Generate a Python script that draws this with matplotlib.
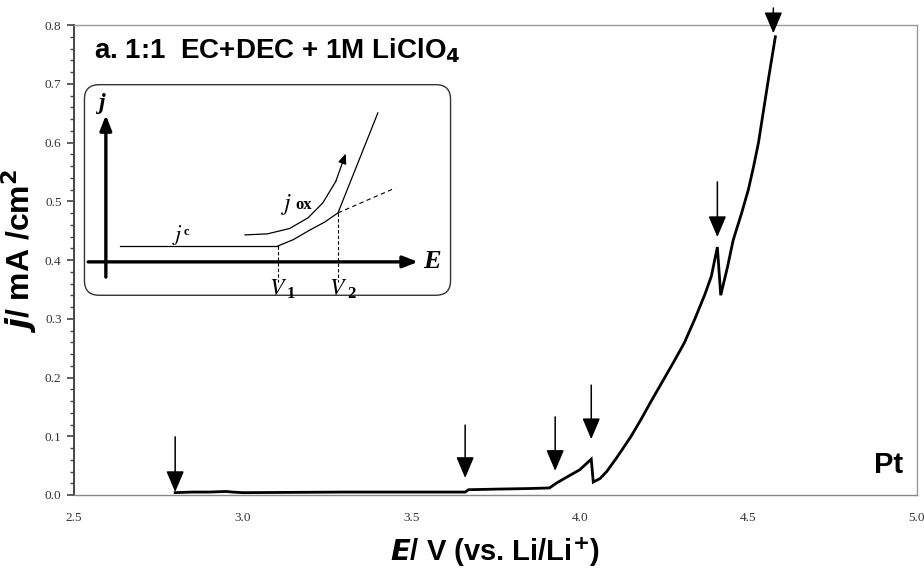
import numpy as np
import matplotlib
matplotlib.use("Agg")
import matplotlib.pyplot as plt
from matplotlib.patches import FancyBboxPatch

# anodic scan on Pt, 1:1 EC+DEC + 1M LiClO4
E = [2.80, 2.85, 2.90, 2.95, 2.97, 3.00, 3.30, 3.60, 3.66, 3.67, 3.75, 3.85,
     3.91, 3.93, 3.96, 4.00, 4.034, 4.040, 4.06, 4.08, 4.11, 4.15, 4.18,
     4.21, 4.25, 4.28, 4.31, 4.34, 4.37, 4.39, 4.408, 4.418, 4.438, 4.455,
     4.48, 4.50, 4.515, 4.53, 4.545, 4.56, 4.58]
j = [0.004, 0.005, 0.005, 0.006, 0.005, 0.004, 0.005, 0.005, 0.005, 0.009,
     0.010, 0.011, 0.012, 0.020, 0.030, 0.043, 0.061, 0.022, 0.028, 0.040,
     0.064, 0.098, 0.127, 0.158, 0.198, 0.228, 0.259, 0.298, 0.340, 0.372,
     0.422, 0.340, 0.388, 0.434, 0.480, 0.520, 0.558, 0.600, 0.655, 0.710,
     0.780]

# arrows marking the events: (E, top of shaft, tip)
arrow_E = [2.80, 3.66, 3.927, 4.034, 4.408, 4.574]
arrow_top = [0.099, 0.119, 0.133, 0.187, 0.533, 0.829]
arrow_tip = [0.005, 0.029, 0.041, 0.095, 0.439, 0.786]

x_ticks = [2.5, 3.0, 3.5, 4.0, 4.5, 5.0]
y_ticks = [0.0, 0.1, 0.2, 0.3, 0.4, 0.5, 0.6, 0.7, 0.8]

# schematic of the onset construction (inset, unit coords)
jc_u = [0.100, 0.528]
jc_v = [0.238, 0.238]
rise_u = [0.528, 0.57, 0.615, 0.655, 0.691, 0.799]
rise_v = [0.238, 0.268, 0.313, 0.350, 0.393, 0.860]
ext_u = [0.691, 0.846]
ext_v = [0.393, 0.509]
jox_u = [0.439, 0.50, 0.56, 0.61, 0.65, 0.685, 0.705]
jox_v = [0.290, 0.295, 0.320, 0.370, 0.440, 0.540, 0.640]
V_u = [0.528, 0.691]

fig = plt.figure(figsize=(9.24, 5.71), dpi=100)
ax = fig.add_axes([0.0801, 0.1331, 0.9123, 0.8231])

ax.plot(E, j, color="black", lw=2.0, solid_joinstyle="miter")
for xe, y0, y1 in zip(arrow_E, arrow_top, arrow_tip):
    ax.annotate("", xy=(xe, y1), xytext=(xe, y0), annotation_clip=False,
                arrowprops=dict(arrowstyle="-|>,head_length=1.3,head_width=0.55",
                                color="black", lw=1.1, shrinkA=0, shrinkB=0))

ax.set_xlim(2.5, 5.0)
ax.set_ylim(0.0, 0.8)
ax.set_xticks(x_ticks)
ax.set_xticklabels(["%.1f" % v for v in x_ticks])
ax.set_yticks(y_ticks)
ax.set_yticklabels(["%.1f" % v for v in y_ticks])
ax.set_yticks(np.arange(0, 0.801, 0.02), minor=True)
ax.tick_params(axis="x", length=0, pad=12, labelsize=9.5, labelcolor="#333333")
ax.tick_params(axis="y", which="major", length=5, width=1.2, color="#444444",
               labelsize=9.5, labelcolor="#333333", pad=4)
ax.tick_params(axis="y", which="minor", length=3, width=1.0, color="#444444")
for lab in ax.get_xticklabels() + ax.get_yticklabels():
    lab.set_fontfamily("Liberation Serif")

ax.spines["left"].set_color("#444444")
ax.spines["left"].set_linewidth(1.4)
ax.spines["bottom"].set_color("#888888")
ax.spines["bottom"].set_linewidth(1.0)
for s in ["top", "right"]:
    ax.spines[s].set_color("#999999")
    ax.spines[s].set_linewidth(1.0)
    ax.spines[s].set_linestyle((0, (1, 1)))

ax.set_xlabel(r"$\mathbfit{E}$/ V (vs. Li/Li$^{\mathbf{+}}$)", fontsize=21,
              fontweight="bold", fontfamily="Liberation Sans", labelpad=8)
ax.set_ylabel(r"$\mathbfit{j}$/ mA /cm$^{\mathbf{2}}$", fontsize=23,
              fontweight="bold", fontfamily="Liberation Sans")
ax.yaxis.set_label_coords(-0.042, 0.52)
ax.text(0.024, 0.945, r"a. 1:1  EC+DEC + 1M LiClO$_{\mathbf{4}}$",
        transform=ax.transAxes, fontsize=20, fontweight="bold",
        fontfamily="Liberation Sans", ha="left", va="center")
ax.text(0.983, 0.035, "Pt", transform=ax.transAxes, fontsize=21,
        fontweight="bold", fontfamily="Liberation Sans", ha="right", va="bottom")

# inset schematic
ins = fig.add_axes([0.0898, 0.4799, 0.3994, 0.3748])
ins.set_xlim(0, 1)
ins.set_ylim(0, 1)
ins.axis("off")
box = FancyBboxPatch((0.004, 0.008), 0.992, 0.984,
                     boxstyle="round,pad=0,rounding_size=0.04",
                     transform=ins.transAxes, fc="white", ec="#333333", lw=1.0,
                     mutation_aspect=1.7)
ins.add_patch(box)
ins.annotate("", xy=(0.062, 0.85), xytext=(0.062, 0.093),
             arrowprops=dict(arrowstyle="-|>,head_length=0.9,head_width=0.35",
                             color="black", lw=2.4, shrinkA=0, shrinkB=0))
ins.annotate("", xy=(0.908, 0.164), xytext=(0.014, 0.164),
             arrowprops=dict(arrowstyle="-|>,head_length=0.9,head_width=0.35",
                             color="black", lw=2.4, shrinkA=0, shrinkB=0))
ins.plot(jc_u, jc_v, color="black", lw=0.9)
ins.plot(rise_u, rise_v, color="black", lw=0.9)
ins.plot(ext_u, ext_v, color="black", lw=0.8, ls=(0, (4, 3)))
ins.plot([V_u[0], V_u[0]], [jc_v[0], 0.07], color="black", lw=0.8, ls=(0, (3, 2)))
ins.plot([V_u[1], V_u[1]], [rise_v[4], 0.07], color="black", lw=0.8, ls=(0, (3, 2)))
ins.plot(jox_u[:-1], jox_v[:-1], color="black", lw=0.9)
ins.annotate("", xy=(0.712, 0.67), xytext=(jox_u[-2], jox_v[-2]),
             arrowprops=dict(arrowstyle="-|>,head_length=0.6,head_width=0.25",
                             color="black", lw=0.9, shrinkA=0, shrinkB=0))

serif = dict(fontfamily="Liberation Serif", fontweight="bold", color="black")
ins.text(0.051, 0.905, "j", fontsize=17, style="italic", ha="center",
         va="center", **serif)
ins.text(0.945, 0.164, "E", fontsize=19, style="italic", ha="center",
         va="center", **serif)
ins.text(0.255, 0.29, r"$j$", fontsize=16, ha="center", va="center",
         math_fontfamily="stix", **serif)
ins.text(0.272, 0.305, "c", fontsize=9, ha="left", va="center", **serif)
ins.text(0.553, 0.43, r"$j$", fontsize=17, ha="center", va="center",
         math_fontfamily="stix", **serif)
ins.text(0.575, 0.43, "ox", fontsize=12, ha="left", va="center", **serif)
ins.text(V_u[0], 0.035, r"$V$", fontsize=17, ha="center", va="center",
         math_fontfamily="stix", **serif)
ins.text(V_u[0] + 0.025, 0.015, "1", fontsize=12, ha="left", va="center", **serif)
ins.text(V_u[1], 0.035, r"$V$", fontsize=17, ha="center", va="center",
         math_fontfamily="stix", **serif)
ins.text(V_u[1] + 0.025, 0.015, "2", fontsize=12, ha="left", va="center", **serif)

fig.savefig("out.png", dpi=100)
